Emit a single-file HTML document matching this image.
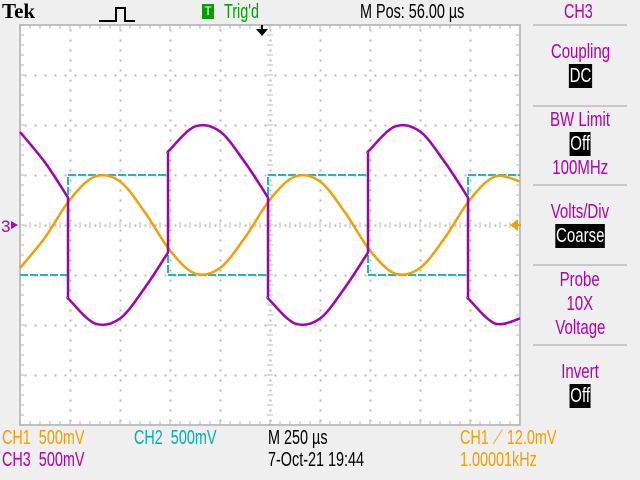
<!DOCTYPE html>
<html><head><meta charset="utf-8"><style>
body{margin:0;width:640px;height:480px;background:#efefef;position:relative;overflow:hidden;font-family:"Liberation Sans",sans-serif}
.t{position:absolute;font-size:20px;line-height:20px;white-space:nowrap;transform:scaleX(0.72);transform-origin:0 0}
.inv{background:#000;color:#fff;padding:0 1px}
.sep{position:absolute;left:533px;width:94px;height:2px;background:#c8c8c8}
.mc{position:absolute;left:523px;width:114px;text-align:center;font-size:20px;line-height:24px;color:#b000b0}
.mc span{display:inline-block;transform:scaleX(0.75)}
</style></head><body>
<div class="t" style="left:2px;top:1px;font-family:'Liberation Serif',serif;font-weight:bold;font-size:21px;transform:none">Tek</div>
<svg style="position:absolute;left:98px;top:6px" width="40" height="18"><path d="M1 15 H18 V2 H27 V15 H37" fill="none" stroke="#000" stroke-width="2"/></svg>
<div style="position:absolute;left:202px;top:4px;width:12px;height:15px;background:#00a000;color:#fff;font-size:12px;text-align:center;line-height:15px">T</div>
<div class="t" style="left:224px;top:2px;color:#00a000">Trig'd</div>
<div class="t" style="left:360px;top:2px">M Pos: 56.00 µs</div>
<div class="t" style="left:564px;top:2px;color:#b000b0">CH3</div>

<div class="sep" style="top:24px"></div>
<div class="sep" style="top:105px"></div>
<div class="sep" style="top:184px"></div>
<div class="sep" style="top:264px"></div>
<div class="sep" style="top:344px"></div>
<div class="mc" style="top:40px"><span>Coupling</span><br><span class="inv">DC</span></div>
<div class="mc" style="top:108px"><span>BW Limit</span><br><span class="inv">Off</span><br><span>100MHz</span></div>
<div class="mc" style="top:200px"><span>Volts/Div</span><br><span class="inv">Coarse</span></div>
<div class="mc" style="top:268px"><span>Probe</span><br><span>10X</span><br><span>Voltage</span></div>
<div class="mc" style="top:360px"><span>Invert</span><br><span class="inv">Off</span></div>

<div class="t" style="left:2px;top:428px;color:#f0a000">CH1&nbsp; 500mV</div>
<div class="t" style="left:134px;top:428px;color:#00b0b0">CH2&nbsp; 500mV</div>
<div class="t" style="left:268px;top:428px">M 250 µs</div>
<div class="t" style="left:460px;top:428px;color:#f0a000">CH1 ⟋ 12.0mV</div>
<div class="t" style="left:2px;top:450px;color:#b000b0">CH3&nbsp; 500mV</div>
<div class="t" style="left:268px;top:450px">7-Oct-21 19:44</div>
<div class="t" style="left:460px;top:450px;color:#f0a000">1.00001kHz</div>

<svg id="scope" style="position:absolute;left:0;top:0" width="640" height="480"></svg>
<script>
// data in divisions (time 0..10 div, volts ±4 div)
const orangeT=[0,0.5,1,1.5,2,2.5,3,3.5,4,4.5,5,5.5,6,6.5,7,7.5,8,8.5,9,9.5,10];
const orangeV=[-0.86,-0.25,0.51,0.97,0.87,0.25,-0.51,-0.97,-0.86,-0.25,0.51,0.97,0.87,0.25,-0.51,-0.97,-0.86,-0.25,0.51,0.97,0.87];
const cyanT=[0,0.96,0.96,2.96,2.96,4.96,4.96,6.96,6.96,8.96,8.96,10];
const cyanV=[-1,-1,1,1,-1,-1,1,1,-1,-1,1,1];
const purpleT=[0,0.5,0.96,0.96,1,1.5,2,2.5,2.96,2.96,3,3.5,4,4.5,4.96,4.96,5,5.5,6,6.5,6.96,6.96,7,7.5,8,8.5,8.96,8.96,9,9.5,10];
const purpleV=[1.86,1.25,0.55,-1.45,-1.51,-1.97,-1.87,-1.25,-0.55,1.45,1.51,1.97,1.87,1.25,0.55,-1.45,-1.51,-1.97,-1.87,-1.25,-0.55,1.45,1.51,1.97,1.87,1.25,0.55,-1.45,-1.51,-1.97,-1.87];
const X0=20,Y0=25,DIV=50;
const xs=t=>X0+t*DIV, ys=v=>225-v*DIV;
const svg=document.getElementById('scope'),NS='http://www.w3.org/2000/svg';
function mk(tag,a){const e=document.createElementNS(NS,tag);for(const k in a)e.setAttribute(k,a[k]);svg.appendChild(e);return e;}
let bg=mk('rect',{x:X0,y:Y0,width:500,height:400,fill:'#fff',stroke:'#c0c0c0','stroke-width':2});


let g='';
for(let i=1;i<10;i++)for(let y=Y0+5;y<Y0+400;y+=10)g+=`M${X0+i*DIV} ${y}h1v1h-1z`;
for(let j=1;j<8;j++)for(let x=X0+5;x<X0+500;x+=10)g+=`M${x} ${Y0+j*DIV}h1v1h-1z`;
for(let x=X0;x<=X0+500;x+=10){g+=`M${x} ${Y0}v4M${x} ${Y0+396}v4M${x} 222v6`;}
for(let y=Y0;y<=Y0+400;y+=10){g+=`M${X0} ${y}h4M${X0+496} ${y}h4M267 ${y}h6`;}
let gp=mk('path',{d:g,stroke:'#b8b8b8','stroke-width':1,fill:'#b8b8b8'});


function trace(T,V,smooth){
  let d='',run=[];
  const flush=()=>{if(!run.length)return;
    d+=`M${run[0][0]} ${run[0][1]}`;
    for(let i=0;i<run.length-1;i++){
      if(!smooth){d+=`L${run[i+1][0]} ${run[i+1][1]}`;continue;}
      const p0=run[i-1]||run[i],p1=run[i],p2=run[i+1],p3=run[i+2]||p2;
      d+=`C${p1[0]+(p2[0]-p0[0])/6} ${p1[1]+(p2[1]-p0[1])/6} ${p2[0]-(p3[0]-p1[0])/6} ${p2[1]-(p3[1]-p1[1])/6} ${p2[0]} ${p2[1]}`;}
  };
  for(let i=0;i<T.length;i++){
    if(i>0&&T[i]===T[i-1]){const last=run[run.length-1];flush();d+=`M${last[0]} ${last[1]}L${xs(T[i])} ${ys(V[i])}`;run=[];}
    run.push([xs(T[i]),ys(V[i])]);
  }
  flush();return d;
}
let c=mk('path',{d:trace(cyanT,cyanV,false),stroke:'#20b8c0','stroke-width':2,fill:'none','stroke-dasharray':'8 2'});


let o=mk('path',{d:trace(orangeT,orangeV,true),stroke:'#f5a000','stroke-width':2.5,fill:'none'});


let p=mk('path',{d:trace(purpleT,purpleV,true),stroke:'#a000b0','stroke-width':2.5,fill:'none'});


let tm=mk('path',{d:'M256 29h12l-6 7z M261 25h2v6h-2z',fill:'#000'});


let lm=mk('path',{d:'M510 225l8 -6v12z M518 224h3v2h-3z',fill:'#f5a000'});


let gm=mk('text',{x:1,y:232,'font-size':17,fill:'#b000b0','font-family':'Liberation Sans'});
gm.textContent='3';


let ga=mk('path',{d:'M11 221l7 4l-7 4z',fill:'#b000b0'});


</script>
</body></html>
